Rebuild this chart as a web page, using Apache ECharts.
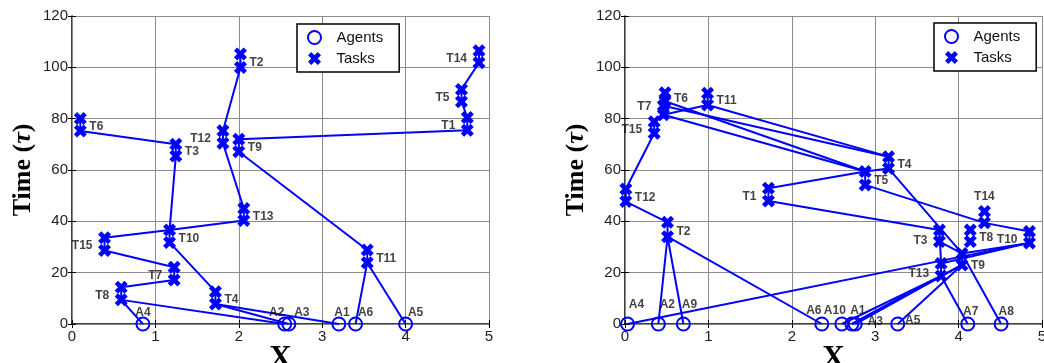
<!DOCTYPE html>
<html>
<head>
<meta charset="utf-8">
<script src="https://cdn.jsdelivr.net/npm/echarts@6/dist/echarts.min.js"></script>
<style>html,body{margin:0;padding:0;background:#fff}#chart{width:1044px;height:363px}</style>
</head>
<body>
<div id="chart"></div>
<script>
// task names shared by both panels
var taskNames = ['T1','T2','T3','T4','T5','T6','T7','T8','T9','T10','T11','T12','T13','T14','T15'];
var xTicks = [0, 1, 2, 3, 4, 5];
var yTicks = [0, 20, 40, 60, 80, 100, 120];

// left panel: 6 agents
var taskXL     = [4.74, 2.02, 1.245, 1.72, 4.67, 0.10, 1.225, 0.59, 2.00, 1.17, 3.54, 1.81, 2.06, 4.88, 0.39];
var taskStartL = [75.5, 99.9, 65.5, 7.8, 86.6, 75.2, 17.1, 9.4, 67.1, 31.8, 23.9, 70.4, 40.3, 101.8, 28.6];
var taskEndL   = [80.5, 105.2, 70.0, 12.6, 91.4, 80.1, 22.1, 14.3, 72.0, 36.6, 28.8, 75.3, 45.0, 106.5, 33.6];
var agentNamesL = ['A1','A2','A3','A4','A5','A6'];
var agentXL     = [3.2, 2.55, 2.6, 0.85, 4.0, 3.4];
// s = task start marker, e = task end marker
var routesL = [
  ['A4','T8s','T8e','T7s','T7e','T15s','T15e','T10e','T13s','T13e','T12s','T12e','T2s','T2e'],
  ['A2','T8s'],
  ['A3','T4s','T4e','T10s','T10e','T3s','T3e','T6s','T6e'],
  ['A1','T4s'],
  ['A6','T11s','T11e','T9s','T9e','T1s','T1e','T5s','T5e','T14s','T14e'],
  ['A5','T11s']
];

// right panel: 10 agents
var taskXR     = [1.72, 0.51, 3.77, 3.16, 2.88, 0.48, 0.46, 4.14, 4.04, 4.85, 0.99, 0.01, 3.79, 4.31, 0.35];
var taskStartR = [47.9, 34.0, 32.1, 60.6, 54.2, 86.8, 81.5, 32.1, 23.0, 31.6, 85.3, 47.7, 18.7, 39.4, 74.3];
var taskEndR   = [52.9, 39.6, 36.6, 65.2, 59.4, 90.1, 85.0, 36.6, 27.5, 36.0, 89.9, 52.6, 23.6, 43.8, 78.8];
var agentNamesR = ['A1','A2','A3','A4','A5','A6','A7','A8','A9','A10'];
var agentXR     = [2.72, 0.40, 2.76, 0.03, 3.27, 2.36, 4.11, 4.51, 0.70, 2.60];
var routesR = [
  ['A6','T2s','T2e','T12s','T12e','T15s','T15e','T7s','T7e','T6s','T6e'],
  ['A2','T2s'],
  ['A9','T2s'],
  ['T7s','T11s','T11e'],
  ['T11s','T4e','T4s'],
  ['T7e','T4e'],
  ['T7s','T5e'],
  ['T6s','T5e'],
  ['T1s','T1e','T5e','T4s','T9e','A8'],
  ['A4','T10s','T10e','T14s','T5s','T5e'],
  ['A7','T13s','T13e','T3e','T1s'],
  ['T3e','T3s','T9e'],
  ['A3','T9s','T9e','T10s'],
  ['T13e','T10s'],
  ['A10','T13s'],
  ['A1','T13s'],
  ['A1','T9s'],
  ['A5','T9s']
];

// label placement (layout only)
var labelSideL = ['left','right','right','right','left','right','left','left','right','right','right','left','right','left','left'];
var labelSideR = ['left','right','left','right','right','right','left','right','right','left','right','right','left','top','left'];
var labelNudgeR = {T3: 3, T9: 4, T7: -6, T13: 2};
var agentLabelOffL = [[3,0],[-8,0],[13,0],[0,0],[10,0],[10,0]];
var agentLabelOffR = [[6,-2],[9,-8],[20,9],[9,-8],[15,8],[-8,-2],[3,-1],[5,-1],[6,-8],[-7,-2]];

var BLUE = '#0000ff';
var SANS = '"Liberation Sans", Arial, sans-serif';
var SERIF = '"Liberation Serif", "Times New Roman", serif';
var XMARK = 'path://M0,2.5 L2.5,0 L5,2.5 L7.5,0 L10,2.5 L7.5,5 L10,7.5 L7.5,10 L5,7.5 L2.5,10 L0,7.5 L2.5,5 Z';

function buildPanel(p, gi) {
  function pt(tok) {
    var i;
    if (tok[0] === 'A') {
      i = p.agentNames.indexOf(tok);
      return [p.agentX[i], 0];
    }
    i = taskNames.indexOf(tok.slice(0, -1));
    return [p.taskX[i], tok.slice(-1) === 'e' ? p.end[i] : p.start[i]];
  }
  var out = [];
  p.routes.forEach(function (r) {
    out.push({
      type: 'line', xAxisIndex: gi, yAxisIndex: gi, data: r.map(pt),
      symbol: 'none', lineStyle: {color: BLUE, width: 2}, z: 2, silent: true
    });
  });
  var marks = [];
  taskNames.forEach(function (n, i) {
    marks.push([p.taskX[i], p.start[i]]);
    marks.push([p.taskX[i], p.end[i]]);
  });
  out.push({
    name: 'Tasks', type: 'scatter', xAxisIndex: gi, yAxisIndex: gi, data: marks,
    symbol: XMARK, symbolSize: 13, itemStyle: {color: BLUE, opacity: 1}, z: 3
  });
  out.push({
    name: 'Agents', type: 'scatter', xAxisIndex: gi, yAxisIndex: gi,
    data: p.agentX.map(function (x) { return [x, 0]; }),
    symbol: 'circle', symbolSize: 13,
    itemStyle: {color: 'rgba(0,0,0,0)', borderColor: BLUE, borderWidth: 2, opacity: 1}, z: 4
  });
  var labs = taskNames.map(function (n, i) {
    var side = p.sides[i];
    var y = side === 'top' ? p.end[i] : (p.start[i] + p.end[i]) / 2;
    return {
      name: n, value: [p.taskX[i], y],
      label: {position: side, distance: side === 'left' ? 12 : 9,
              offset: [0, side === 'top' ? 0 : 2 + ((p.nudge || {})[n] || 0)]}
    };
  });
  p.agentNames.forEach(function (n, i) {
    labs.push({name: n, value: [p.agentX[i], 0],
      label: {position: 'top', distance: 5, offset: p.agentOff[i]}});
  });
  out.push({
    type: 'scatter', xAxisIndex: gi, yAxisIndex: gi, data: labs, symbolSize: 0,
    silent: true, z: 5,
    label: {show: true, formatter: '{b}', color: '#111', fontFamily: SANS,
            fontWeight: 'bold', fontSize: 12}
  });
  return out;
}

var series = buildPanel({taskX: taskXL, start: taskStartL, end: taskEndL,
  agentNames: agentNamesL, agentX: agentXL, routes: routesL,
  sides: labelSideL, agentOff: agentLabelOffL}, 0)
  .concat(buildPanel({taskX: taskXR, start: taskStartR, end: taskEndR,
  agentNames: agentNamesR, agentX: agentXR, routes: routesR,
  sides: labelSideR, nudge: labelNudgeR, agentOff: agentLabelOffR}, 1));

function xAx(gi, pos) {
  var main = pos === 'bottom';
  return {
    type: 'value', gridIndex: gi, position: pos, min: xTicks[0], max: xTicks[xTicks.length - 1], interval: 1,
    name: main ? 'X' : '', nameLocation: 'middle', nameGap: 19, nameMoveOverlap: false,
    nameTextStyle: {fontFamily: SERIF, fontWeight: 'bold', fontSize: 31, color: '#000'},
    axisLine: {show: true, lineStyle: {color: main ? '#000' : '#888', width: main ? 1.5 : 1}},
    axisTick: {show: true, inside: true, length: 4, lineStyle: {color: '#000'}},
    axisLabel: {show: main, margin: 5, fontFamily: SANS, fontSize: 15, color: '#222'},
    splitLine: {show: main, lineStyle: {color: '#8c8c8c', width: 1}}
  };
}
function yAx(gi, pos) {
  var main = pos === 'left';
  return {
    type: 'value', gridIndex: gi, position: pos, min: yTicks[0], max: yTicks[yTicks.length - 1], interval: 20,
    name: main ? 'Time ({t|τ})' : '', nameLocation: 'middle', nameGap: 36, nameRotate: 90, nameMoveOverlap: false,
    nameTextStyle: {fontFamily: SERIF, fontWeight: 'bold', fontSize: 26, color: '#000',
      rich: {t: {fontFamily: SERIF, fontWeight: 'bold', fontStyle: 'italic', fontSize: 26, color: '#000'}}},
    axisLine: {show: true, lineStyle: {color: main ? '#000' : '#888', width: main ? 1.5 : 1}},
    axisTick: {show: true, inside: true, length: 4, lineStyle: {color: '#000'}},
    axisLabel: {show: main, margin: 4, fontFamily: SANS, fontSize: 15, color: '#222'},
    splitLine: {show: main, lineStyle: {color: '#8c8c8c', width: 1}}
  };
}

function legendAt(left, top) {
  return {
    left: left, top: top, orient: 'vertical', data: ['Agents', 'Tasks'],
    backgroundColor: '#fff', borderColor: '#000', borderWidth: 1.5, borderRadius: 0,
    padding: [6, 16, 6, 10], itemGap: 6, itemWidth: 34, itemHeight: 13,
    textStyle: {fontFamily: SANS, fontSize: 15, color: '#111'}, selectedMode: false
  };
}

var chart = echarts.init(document.getElementById('chart'), null, {renderer: 'canvas'});
chart.setOption({
  animation: false,
  backgroundColor: '#fff',
  grid: [
    {left: 72, top: 16, width: 417, height: 308, outerBoundsMode: 'none', containLabel: false},
    {left: 625, top: 16, width: 417, height: 308, outerBoundsMode: 'none', containLabel: false}
  ],
  xAxis: [xAx(0, 'bottom'), xAx(1, 'bottom'), xAx(0, 'top'), xAx(1, 'top')],
  yAxis: [yAx(0, 'left'), yAx(1, 'left'), yAx(0, 'right'), yAx(1, 'right')],
  legend: [legendAt(297, 24), legendAt(934, 23)],
  series: series
});
</script>
</body>
</html>
